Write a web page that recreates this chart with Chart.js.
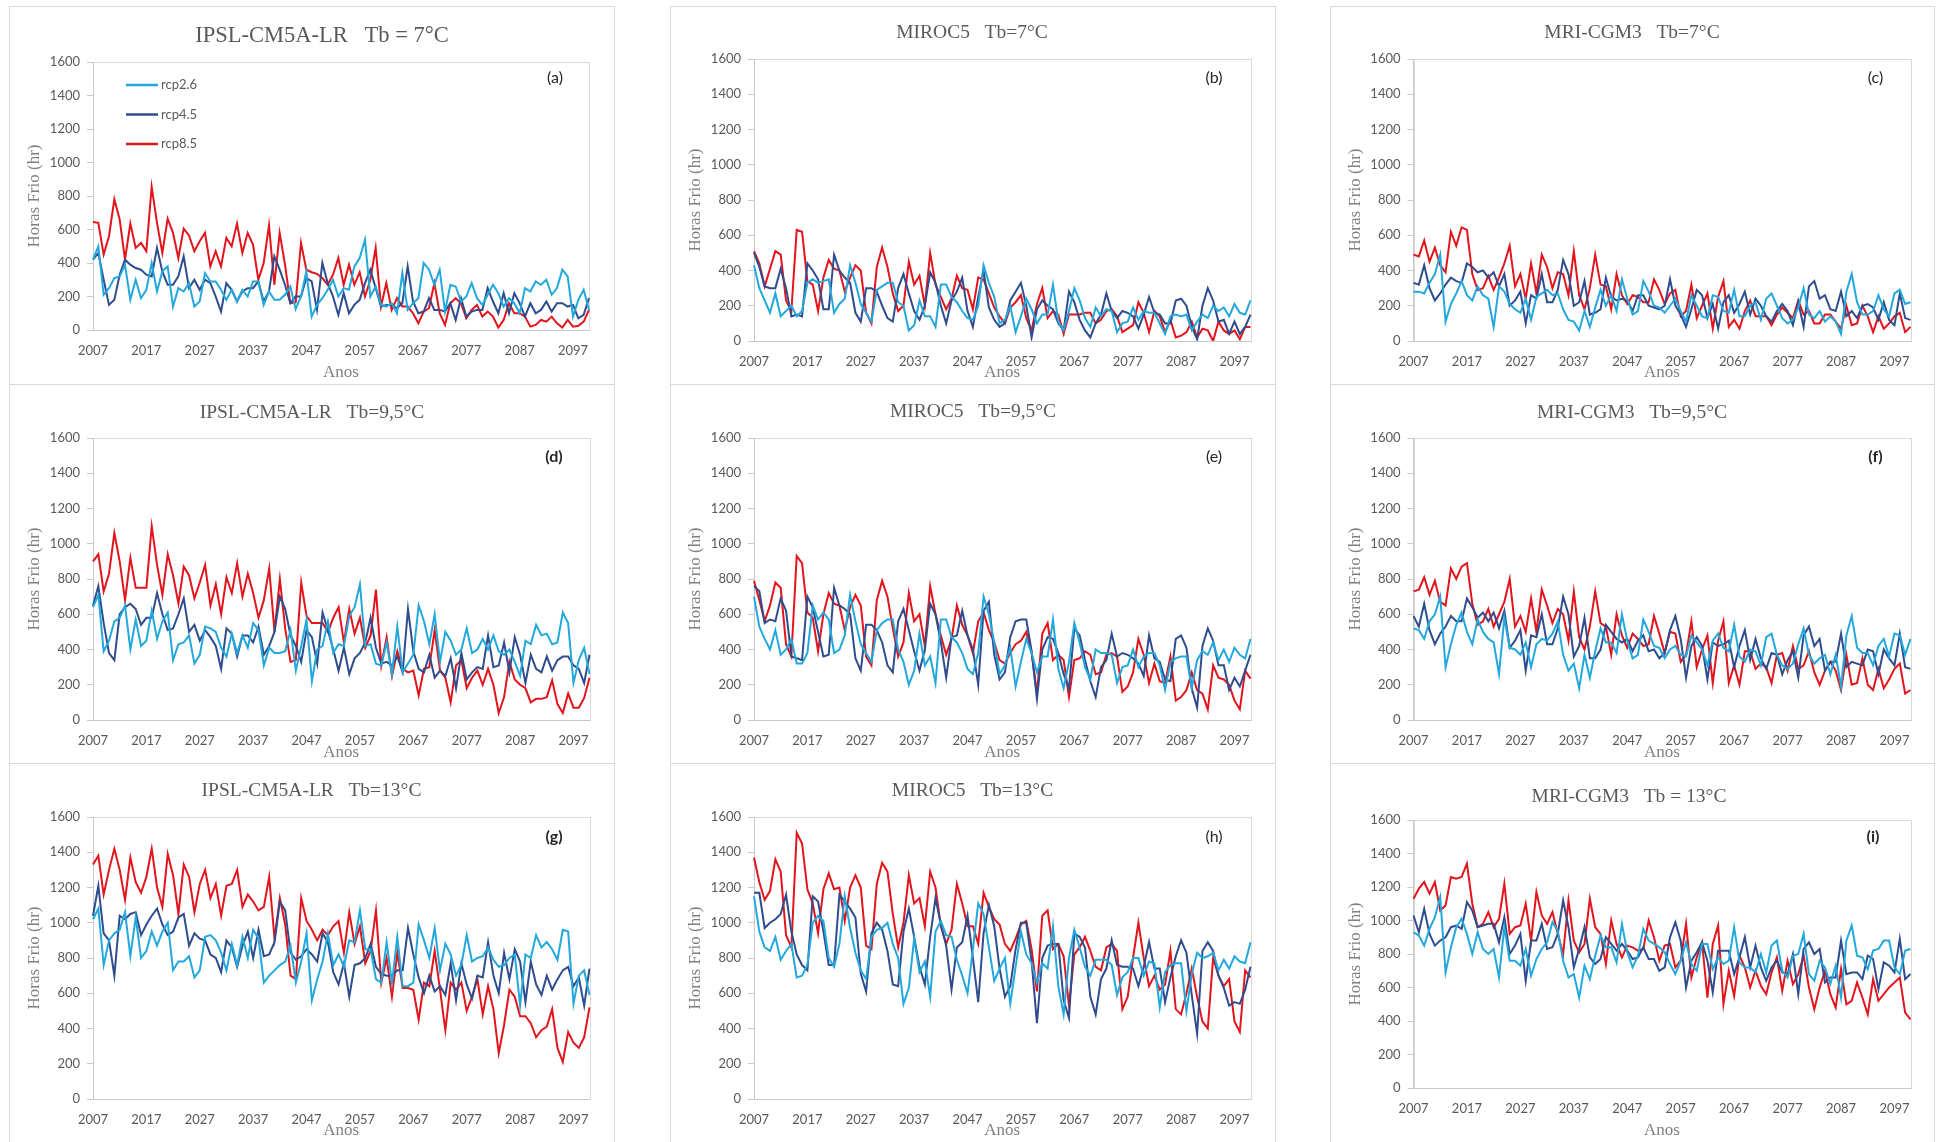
<!DOCTYPE html>
<html>
<head>
<meta charset="utf-8">
<title>Horas Frio – IPSL-CM5A-LR, MIROC5, MRI-CGM3</title>
<script src="https://cdn.jsdelivr.net/npm/chart.js@4"></script>
<style>
  html, body { margin: 0; padding: 0; background: #ffffff; }
  body { width: 1939px; height: 1142px; position: relative; overflow: hidden; }
  canvas { position: absolute; }
</style>
</head>
<body>
<script>
// ---- categories and tick labels ----
const years = [
  '2007','2008','2009','2010','2011','2012','2013','2014','2015','2016',
  '2017','2018','2019','2020','2021','2022','2023','2024','2025','2026',
  '2027','2028','2029','2030','2031','2032','2033','2034','2035','2036',
  '2037','2038','2039','2040','2041','2042','2043','2044','2045','2046',
  '2047','2048','2049','2050','2051','2052','2053','2054','2055','2056',
  '2057','2058','2059','2060','2061','2062','2063','2064','2065','2066',
  '2067','2068','2069','2070','2071','2072','2073','2074','2075','2076',
  '2077','2078','2079','2080','2081','2082','2083','2084','2085','2086',
  '2087','2088','2089','2090','2091','2092','2093','2094','2095','2096',
  '2097','2098','2099','2100'
];
const xTickLabels = ['2007','2017','2027','2037','2047','2057','2067','2077','2087','2097'];
const scenarioNames = ['rcp2.6', 'rcp4.5', 'rcp8.5'];

// ---- IPSL-CM5A-LR, Tb = 7 °C ----
const ipsl7_rcp26 = [
  420,500,210,250,310,320,390,180,300,190, 240,400,230,350,380,140,250,230,280,140,
  170,340,290,290,240,180,240,170,240,200, 290,290,150,230,180,180,210,260,125,200,
  350,80,150,190,240,300,200,250,240,380, 430,540,200,260,150,140,160,100,340,120,
  160,190,400,360,270,360,110,270,260,170, 200,280,190,150,210,270,220,140,190,160,
  100,250,230,290,270,300,210,250,360,320, 80,180,240,120];
const ipsl7_rcp45 = [
  420,460,300,150,180,330,420,390,370,360, 330,320,490,350,270,270,320,440,250,300,
  240,300,280,200,110,280,240,170,230,250, 250,290,170,230,440,360,270,160,200,200,
  310,290,120,400,280,200,90,220,100,150, 180,280,360,250,140,150,150,130,160,380,
  170,100,110,190,120,120,110,160,60,190, 80,110,120,120,250,170,100,220,100,220,
  160,80,160,100,120,170,110,160,160,140, 150,70,90,190];
const ipsl7_rcp85 = [
  645,640,450,560,780,660,420,635,490,520, 470,855,640,460,665,580,430,605,565,470,
  530,580,380,470,380,550,500,635,460,580, 510,300,400,625,270,580,390,160,165,520,
  360,345,335,310,270,330,430,270,390,270, 345,200,300,490,140,280,120,190,140,140,
  100,40,110,130,280,100,30,160,190,160, 70,120,150,80,110,80,15,60,160,100,
  100,80,20,30,60,50,80,40,15,60, 20,25,50,120];

// ---- MIROC5, Tb = 7 °C ----
const miroc7_rcp26 = [
  430,300,230,160,270,140,170,200,140,170, 330,350,330,340,350,160,210,240,430,330,
  210,160,110,290,310,330,330,220,200,60, 90,230,140,140,80,320,320,250,220,170,
  130,120,200,430,330,250,100,120,200,50, 140,240,180,100,150,150,320,110,60,170,
  300,230,130,80,190,140,180,170,50,100, 110,190,120,170,160,160,100,40,140,150,
  140,150,60,110,150,130,200,170,190,140, 210,160,150,230];
const miroc7_rcp45 = [
  500,420,310,300,300,410,300,140,150,140, 440,400,350,180,180,490,400,360,330,160,
  110,300,300,280,200,130,110,300,380,270, 170,120,200,390,330,200,100,230,280,360,
  170,80,250,400,190,120,80,100,230,280, 330,200,20,180,230,200,180,100,60,280,
  220,120,60,20,100,150,270,170,130,170, 160,140,70,150,250,160,150,100,100,230,
  240,200,80,10,200,300,230,110,120,40, 110,40,80,150];
const miroc7_rcp85 = [
  510,440,310,410,510,490,230,170,630,620, 340,320,170,360,460,410,400,280,360,430,
  400,160,100,420,530,420,270,170,200,450, 320,370,200,500,320,250,180,240,370,300,
  290,180,360,350,270,190,140,100,190,220, 260,130,60,210,300,130,170,150,40,150,
  150,150,160,160,100,120,170,180,140,50, 70,90,220,160,50,170,140,50,120,20,
  30,50,110,20,70,60,0,110,60,40, 60,10,80,80];

// ---- MRI-CGM3, Tb = 7 °C ----
const mri7_rcp26 = [
  280,280,270,330,380,490,110,210,270,340, 260,230,310,260,240,80,310,280,210,180,
  160,240,120,250,270,290,260,270,180,120, 110,60,170,80,190,290,200,260,170,350,
  240,150,170,340,280,200,190,160,200,240, 170,110,260,200,140,130,260,250,170,160,
  290,140,140,200,220,120,240,270,200,130, 100,120,190,300,150,130,170,110,140,110,
  40,280,380,220,150,150,170,260,180,140, 270,290,210,220];
const mri7_rcp45 = [
  330,320,430,300,230,270,320,360,340,330, 440,420,390,400,360,390,310,380,200,230,
  280,100,260,240,380,220,220,290,460,380, 200,220,340,150,160,180,360,250,230,240,
  230,170,260,260,200,190,180,200,350,200, 150,80,180,290,260,130,210,70,220,260,
  160,210,280,150,240,200,140,110,170,210, 170,90,220,80,310,340,240,260,180,170,
  280,140,170,130,200,210,190,120,220,120, 90,270,130,120];
const mri7_rcp85 = [
  490,480,570,450,530,430,390,620,540,645, 630,380,290,300,370,290,360,440,540,310,
  380,240,440,270,490,420,300,390,380,260, 510,260,180,300,490,320,310,180,380,260,
  210,260,250,220,220,350,290,210,270,290, 140,170,320,130,200,270,70,250,340,80,
  120,70,170,230,140,140,140,90,150,190, 160,130,230,150,170,100,100,150,150,110,
  70,200,90,100,200,140,50,140,70,100, 140,160,50,80];

// ---- IPSL-CM5A-LR, Tb = 9,5 °C ----
const ipsl95_rcp26 = [
  640,710,390,450,560,580,650,400,570,420, 450,620,460,560,610,340,430,440,480,320,
  370,530,520,500,410,360,490,380,480,410, 550,510,310,410,380,380,390,510,280,420,
  570,220,400,420,560,380,430,420,590,640, 770,420,430,320,310,440,260,530,270,320,
  370,650,560,430,600,330,500,450,370,400, 520,380,400,460,400,480,390,370,400,330,
  250,450,430,540,480,490,430,440,610,550, 210,340,410,260];
const ipsl95_rcp45 = [
  650,760,550,380,340,600,640,660,630,540, 580,580,720,600,510,520,600,690,500,540,
  450,510,470,420,290,520,490,360,480,480, 440,530,370,420,500,700,630,480,420,330,
  510,470,320,610,510,400,280,410,260,350, 380,440,580,410,320,330,310,360,270,630,
  390,290,270,370,240,280,250,350,180,380, 230,270,300,290,480,300,310,440,270,470,
  370,210,370,290,270,360,280,340,360,360, 310,290,210,370];
const ipsl95_rcp85 = [
  900,940,730,830,1060,900,680,920,750,750, 750,1100,880,710,940,820,660,870,820,690,
  780,880,650,770,600,810,720,890,700,830, 720,580,680,860,500,800,520,330,340,780,
  590,550,550,550,500,580,640,440,630,490, 580,410,480,740,310,470,250,390,290,270,
  280,140,290,300,510,280,240,100,310,340, 180,240,280,200,290,200,40,130,330,230,
  200,180,100,120,120,130,225,90,40,150, 70,70,125,240];

// ---- MIROC5, Tb = 9,5 °C ----
const miroc95_rcp26 = [
  700,530,460,400,510,370,400,460,320,320, 380,650,570,610,570,380,400,480,710,560,
  430,380,330,510,550,570,570,400,330,200, 280,490,310,360,210,570,570,470,440,380,
  290,260,380,700,600,440,260,310,410,190, 330,460,380,270,360,360,570,290,180,330,
  550,440,300,230,400,380,380,370,210,300, 310,400,300,360,380,380,310,170,330,350,
  360,360,180,340,390,370,440,340,400,330, 410,370,350,460];
const miroc95_rcp45 = [
  760,730,550,570,560,690,620,360,350,340, 700,640,500,360,370,750,650,630,600,350,
  280,540,540,510,440,310,270,560,630,510, 390,280,400,660,600,440,240,470,480,620,
  480,400,200,620,670,370,230,270,470,560, 570,570,390,120,400,470,460,380,260,180,
  520,480,340,220,130,300,340,490,360,380, 370,350,320,250,480,350,330,230,220,460,
  480,410,180,70,420,520,450,310,310,170, 240,190,280,370];
const miroc95_rcp85 = [
  790,680,560,650,780,750,430,360,930,890, 610,580,390,600,720,660,650,510,640,710,
  650,360,310,680,790,700,520,360,440,720, 560,600,420,760,600,480,370,460,650,540,
  480,380,560,610,510,440,340,320,380,430, 450,500,380,150,490,550,340,370,340,130,
  340,350,390,370,260,270,370,380,360,160, 190,270,460,370,210,320,220,210,360,110,
  130,170,270,170,150,60,310,240,230,200, 110,60,280,235];

// ---- MRI-CGM3, Tb = 9,5 °C ----
const mri95_rcp26 = [
  520,510,460,560,600,700,300,430,540,610, 500,430,570,500,460,440,260,580,410,400,
  370,440,300,430,460,450,490,560,370,280, 320,180,370,240,390,520,440,440,380,600,
  450,350,370,570,500,420,410,350,400,420, 370,360,480,440,400,310,450,490,410,390,
  540,360,330,400,390,310,470,490,370,310, 290,320,430,520,370,320,350,370,260,370,
  190,480,590,410,380,380,310,420,460,360, 490,480,370,460];
const mri95_rcp45 = [
  590,530,660,510,430,490,530,590,560,560, 690,640,580,610,560,610,520,620,410,450,
  510,280,480,470,600,430,430,520,700,600, 360,420,580,350,350,400,540,500,460,440,
  460,390,450,480,390,400,350,380,510,590, 460,240,420,470,420,230,440,420,430,450,
  300,420,510,340,460,350,290,380,370,260, 340,390,240,480,530,420,460,280,330,330,
  490,300,330,320,310,400,390,260,400,350, 310,490,300,290];
const mri95_rcp85 = [
  730,740,810,710,790,670,650,860,800,870, 890,660,540,560,630,530,600,670,800,530,
  590,500,690,500,740,650,550,630,600,450, 730,470,400,530,730,550,530,370,600,480,
  410,490,460,420,430,590,490,380,500,490, 330,370,560,300,400,480,210,450,560,210,
  310,200,390,390,290,320,300,210,370,380, 280,420,290,310,390,270,200,280,330,280,
  170,370,200,210,350,200,170,290,180,230, 290,320,150,170];

// ---- IPSL-CM5A-LR, Tb = 13 °C ----
const ipsl13_rcp26 = [
  1020,1080,760,900,940,960,1060,810,1030,800, 840,950,870,950,1000,730,780,780,810,690,
  730,920,930,900,830,730,880,760,920,800, 960,910,660,700,730,760,780,870,660,780,
  940,560,680,780,940,760,820,750,900,890, 1070,850,850,680,660,890,660,920,640,640,
  660,990,900,800,970,730,880,820,700,760, 930,780,800,810,860,790,750,760,800,820,
  530,820,800,930,860,890,850,790,960,950, 540,700,730,590];
const ipsl13_rcp45 = [
  1040,1210,940,900,700,1040,1020,1050,1060,930, 990,1040,1080,990,930,950,1030,1050,870,940,
  910,900,820,800,720,900,860,750,870,950, 800,960,810,820,890,1120,1070,830,790,810,
  850,820,780,940,890,720,650,770,580,760, 770,800,880,750,710,700,700,730,730,970,
  820,690,600,700,610,640,590,770,560,770, 650,570,700,690,890,700,600,830,680,850,
  780,550,780,650,590,700,620,680,730,750, 640,690,530,740];
const ipsl13_rcp85 = [
  1330,1380,1160,1300,1420,1300,1130,1370,1230,1170, 1260,1420,1200,1090,1390,1270,1050,1330,1260,1060,
  1220,1300,1140,1220,1040,1210,1220,1300,1090,1160, 1120,1070,1090,1260,910,1140,990,700,680,1140,
  1010,960,900,960,930,980,1010,830,1060,880, 980,770,840,1070,660,800,580,830,630,630,
  620,450,660,640,840,620,390,660,620,660, 500,580,680,480,640,510,260,420,620,580,
  470,470,430,350,390,410,510,290,210,380, 320,290,350,520];

// ---- MIROC5, Tb = 13 °C ----
const miroc13_rcp26 = [
  1150,950,860,840,920,790,840,880,690,700, 760,1000,1040,1010,800,750,880,1150,970,830,
  730,680,920,960,970,1000,880,800,540,630, 910,720,780,580,950,1010,930,920,790,700,
  600,850,1110,1050,860,670,740,800,540,750, 950,820,770,660,770,740,980,640,480,800,
  960,860,750,700,790,790,790,760,590,690, 720,800,800,700,780,770,520,720,760,770,
  770,500,710,830,800,810,830,730,790,740, 810,780,770,890];
const miroc13_rcp45 = [
  1170,1170,970,1000,1020,1050,1160,950,820,760, 730,1150,1120,950,760,760,1160,1120,1080,1030,
  710,610,940,1000,960,840,650,640,950,1080, 920,750,650,920,1140,990,870,620,860,890,
  1040,800,550,940,1100,980,740,580,640,850, 1000,1000,780,430,800,870,880,880,560,460,
  940,920,860,580,480,680,740,900,760,750, 750,740,640,750,890,740,740,550,690,810,
  900,830,590,370,840,890,840,700,630,530, 550,540,620,750];
const miroc13_rcp85 = [
  1370,1230,1130,1180,1360,1290,930,860,1510,1450, 1190,1110,940,1190,1280,1190,1200,1010,1200,1270,
  1200,870,850,1220,1340,1290,1050,860,1000,1270, 1110,1140,980,1290,1200,980,880,960,1220,1110,
  980,980,880,1170,1090,1020,990,880,840,910, 990,1010,850,610,1040,1070,850,880,810,530,
  820,860,920,840,750,730,860,880,840,510, 580,800,1000,800,640,700,620,650,840,510,
  480,600,740,580,440,400,800,700,640,680, 440,380,730,690];

// ---- MRI-CGM3, Tb = 13 °C ----
const mri13_rcp26 = [
  930,910,850,950,1020,1140,690,840,960,1010, 920,800,930,830,800,830,660,960,760,760,
  730,830,670,770,830,870,990,940,760,660, 680,540,730,650,790,910,840,840,750,980,
  810,720,790,950,880,860,840,810,740,680, 760,870,740,700,860,860,710,780,740,760,
  960,750,720,720,690,800,690,850,880,700, 660,790,800,920,680,640,760,720,620,730,
  540,880,970,790,780,710,820,830,880,880, 720,680,820,830];
const mri13_rcp45 = [
  1030,930,1070,920,850,880,900,960,970,950, 1110,1060,960,970,980,980,870,1020,800,850,
  920,640,880,880,980,830,840,920,1120,960, 720,830,960,780,740,770,900,860,820,860,
  820,770,780,840,770,770,700,720,900,990, 880,600,760,810,870,760,570,820,820,820,
  680,780,900,720,850,720,640,720,760,690, 680,800,560,830,870,800,830,630,660,660,
  880,680,690,690,650,790,770,590,750,730, 690,890,650,680];
const mri13_rcp85 = [
  1130,1190,1230,1160,1230,1060,1090,1260,1250,1260, 1340,1100,960,980,1050,960,1010,1220,920,960,
  970,1100,880,1170,1030,980,1050,920,800,1120, 880,810,860,1130,960,920,740,1000,860,780,
  850,840,820,830,1000,900,760,850,860,720, 760,980,660,780,870,540,860,970,500,700,
  550,790,720,600,700,610,560,690,780,580, 760,620,680,790,600,470,600,700,560,480,
  710,500,520,630,540,440,650,520,560,600, 630,660,450,410];

// ---- styling ----
const lineColors = ['#23A8DD', '#2E4C8E', '#E2141C'];
const frameColor = '#d9d9d9';
const axisColor = '#c8c8c8';
const tickTextColor = '#595959';
const titleColor = '#595959';
const axisTitleColor = '#808080';
const serif = "'Liberation Serif', 'Times New Roman', serif";
const sans = "Lato, 'Open Sans', sans-serif";

// Panel layout in page pixels: outer frame, plot area and text anchors.
const panels = [
  { series: [ipsl7_rcp26, ipsl7_rcp45, ipsl7_rcp85], title: 'IPSL-CM5A-LR   Tb = 7°C', titleSize: 22.5,
    box: {x: 9, y: 6, w: 606, h: 379}, plot: {l: 93, t: 62, r: 589, b: 330},
    titleAt: [322, 36], letter: '(a)', letterAt: [555, 78], bold: false, anosY: 372.7, legend: true },
  { series: [miroc7_rcp26, miroc7_rcp45, miroc7_rcp85], title: 'MIROC5   Tb=7°C', titleSize: 19.5,
    box: {x: 670, y: 6, w: 606, h: 379}, plot: {l: 754, t: 59, r: 1250.5, b: 341},
    titleAt: [972, 33.3], letter: '(b)', letterAt: [1214, 78], bold: false, anosY: 372.7 },
  { series: [mri7_rcp26, mri7_rcp45, mri7_rcp85], title: 'MRI-CGM3   Tb=7°C', titleSize: 19.5,
    box: {x: 1330, y: 6, w: 605, h: 379}, plot: {l: 1413.5, t: 59, r: 1910.5, b: 341},
    titleAt: [1632, 33.3], letter: '(c)', letterAt: [1875.5, 78], bold: false, anosY: 372.7 },
  { series: [ipsl95_rcp26, ipsl95_rcp45, ipsl95_rcp85], title: 'IPSL-CM5A-LR   Tb=9,5°C', titleSize: 19.5,
    box: {x: 9, y: 384, w: 606, h: 380}, plot: {l: 93, t: 438, r: 589.5, b: 720},
    titleAt: [312, 412.7], letter: '(d)', letterAt: [554, 456.7], bold: true, anosY: 752.7 },
  { series: [miroc95_rcp26, miroc95_rcp45, miroc95_rcp85], title: 'MIROC5   Tb=9,5°C', titleSize: 19.5,
    box: {x: 670, y: 384, w: 606, h: 380}, plot: {l: 754, t: 438, r: 1250.5, b: 720},
    titleAt: [973, 412], letter: '(e)', letterAt: [1214, 456.7], bold: false, anosY: 752.7 },
  { series: [mri95_rcp26, mri95_rcp45, mri95_rcp85], title: 'MRI-CGM3   Tb=9,5°C', titleSize: 19.5,
    box: {x: 1330, y: 384, w: 605, h: 380}, plot: {l: 1413.5, t: 438, r: 1910.5, b: 720},
    titleAt: [1632, 412.7], letter: '(f)', letterAt: [1875.5, 456.7], bold: true, anosY: 752.7 },
  { series: [ipsl13_rcp26, ipsl13_rcp45, ipsl13_rcp85], title: 'IPSL-CM5A-LR   Tb=13°C', titleSize: 19.5,
    box: {x: 9, y: 763, w: 606, h: 390}, plot: {l: 93, t: 817, r: 589.5, b: 1099},
    titleAt: [311.5, 791.3], letter: '(g)', letterAt: [554, 836.7], bold: true, anosY: 1130.7 },
  { series: [miroc13_rcp26, miroc13_rcp45, miroc13_rcp85], title: 'MIROC5   Tb=13°C', titleSize: 19.5,
    box: {x: 670, y: 763, w: 606, h: 390}, plot: {l: 754, t: 817, r: 1250.5, b: 1099},
    titleAt: [972.5, 791.3], letter: '(h)', letterAt: [1214, 836.7], bold: false, anosY: 1130.7 },
  { series: [mri13_rcp26, mri13_rcp45, mri13_rcp85], title: 'MRI-CGM3   Tb = 13°C', titleSize: 19.5,
    box: {x: 1330, y: 763, w: 605, h: 390}, plot: {l: 1413.5, t: 820, r: 1910.5, b: 1088},
    titleAt: [1629, 796.7], letter: '(i)', letterAt: [1873, 836.7], bold: true, anosY: 1130.7 }
];

// Frame, plot border, titles, axis titles, panel letter and (for the first panel) the legend.
function panelDecor(p) {
  const bx = p.box.x, by = p.box.y;
  return {
    id: 'panelDecor',
    beforeDraw(chart) {
      const ctx = chart.ctx;
      ctx.save();
      ctx.fillStyle = '#ffffff';
      ctx.fillRect(0, 0, chart.width, chart.height);
      ctx.strokeStyle = frameColor;
      ctx.lineWidth = 1;
      ctx.strokeRect(0.5, 0.5, chart.width - 1, chart.height - 1);
      const a = chart.chartArea;
      ctx.strokeRect(Math.round(a.left) + 0.5, Math.round(a.top) + 0.5,
                     Math.round(a.right) - Math.round(a.left), Math.round(a.bottom) - Math.round(a.top));
      ctx.restore();
    },
    afterDraw(chart) {
      const ctx = chart.ctx;
      const a = chart.chartArea;
      ctx.save();
      ctx.textAlign = 'center';
      ctx.textBaseline = 'middle';

      // chart title
      ctx.fillStyle = titleColor;
      ctx.font = p.titleSize + 'px ' + serif;
      ctx.fillText(p.title, p.titleAt[0] - bx, p.titleAt[1] - by);

      // x axis title
      ctx.fillStyle = axisTitleColor;
      ctx.font = '17px ' + serif;
      ctx.fillText('Anos', (a.left + a.right) / 2, p.anosY - by);

      // y axis title
      ctx.save();
      ctx.translate(a.left - 58, (a.top + a.bottom) / 2);
      ctx.rotate(-Math.PI / 2);
      ctx.fillText('Horas Frio (hr)', 0, 0);
      ctx.restore();

      // panel letter
      ctx.fillStyle = '#262626';
      ctx.font = (p.bold ? 'bold ' : '') + '16px ' + sans;
      ctx.fillText(p.letter, p.letterAt[0] - bx, p.letterAt[1] - by);

      // legend
      if (p.legend) {
        const rows = [85, 114.5, 144];
        chart.data.datasets.forEach((ds, i) => {
          const y = rows[i] - by;
          ctx.strokeStyle = ds.borderColor;
          ctx.lineWidth = 2.5;
          ctx.beginPath();
          ctx.moveTo(126 - bx, y);
          ctx.lineTo(158 - bx, y);
          ctx.stroke();
          ctx.fillStyle = tickTextColor;
          ctx.font = '13px ' + sans;
          ctx.textAlign = 'left';
          ctx.fillText(ds.label, 161 - bx, y);
        });
      }
      ctx.restore();
    }
  };
}

function drawPanel(p) {
  const cv = document.createElement('canvas');
  cv.width = p.box.w;
  cv.height = p.box.h;
  cv.style.left = p.box.x + 'px';
  cv.style.top = p.box.y + 'px';
  cv.style.width = p.box.w + 'px';
  cv.style.height = p.box.h + 'px';
  document.body.appendChild(cv);

  const plotL = p.plot.l - p.box.x;
  const plotT = p.plot.t - p.box.y;
  const plotR = p.plot.r - p.box.x;
  const plotB = p.plot.b - p.box.y;

  new Chart(cv, {
    type: 'line',
    data: {
      labels: years,
      datasets: p.series.map((values, i) => ({
        label: scenarioNames[i],
        data: values,
        borderColor: lineColors[i],
        backgroundColor: lineColors[i],
        borderWidth: 2,
        pointRadius: 0,
        pointHoverRadius: 0,
        tension: 0,
        fill: false
      }))
    },
    options: {
      responsive: false,
      maintainAspectRatio: false,
      animation: false,
      devicePixelRatio: 1,
      layout: { padding: { left: 0, top: plotT, right: p.box.w - plotR, bottom: 0 } },
      plugins: {
        legend: { display: false },
        title: { display: false },
        tooltip: { enabled: false }
      },
      scales: {
        x: {
          type: 'category',
          offset: false,
          grid: { display: false, drawTicks: false },
          border: { display: true, color: axisColor, width: 1 },
          ticks: {
            autoSkip: false,
            maxRotation: 0,
            minRotation: 0,
            padding: 13,
            color: tickTextColor,
            font: { family: sans, size: 13 },
            callback: (value, index) => xTickLabels.includes(years[index]) ? years[index] : null
          },
          afterFit: (scale) => { scale.height = p.box.h - plotB; }
        },
        y: {
          min: 0,
          max: 1600,
          grid: { drawOnChartArea: false, drawTicks: true, tickLength: 6, color: axisColor },
          border: { display: true, color: axisColor, width: 1 },
          ticks: {
            stepSize: 200,
            padding: 7,
            color: tickTextColor,
            font: { family: sans, size: 13 },
            callback: (value) => String(value)
          },
          afterFit: (scale) => { scale.width = plotL; }
        }
      }
    },
    plugins: [panelDecor(p)]
  });
}

panels.forEach(drawPanel);
</script>
</body>
</html>
